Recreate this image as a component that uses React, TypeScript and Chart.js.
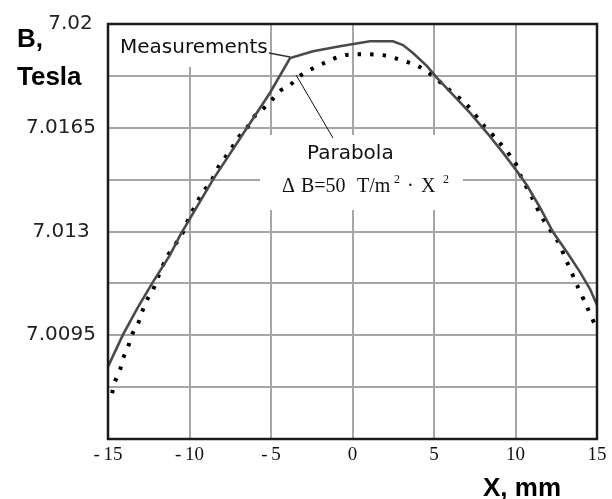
import React, { useEffect, useRef } from 'react';
import { Chart, registerables } from 'chart.js';

Chart.register(...registerables);

// Measured field B (Tesla) along X (mm)
const measX = [-15, -14.08, -13.22, -12.24, -11.2, -10.58, -8.56, -6.47, -5.06, -3.83, -2.42, -0.77, 1.07, 2.48, 3.1, 3.71, 4.57, 5.18, 6.17, 7.21, 8.25, 9.23, 10.09, 10.71, 11.5, 12.3, 13.16, 13.96, 14.57, 15];
const measB = [7.00844, 7.00952, 7.01039, 7.0113, 7.0122, 7.01287, 7.01475, 7.0165, 7.01768, 7.01885, 7.01908, 7.01925, 7.01942, 7.01942, 7.01929, 7.01902, 7.01858, 7.01818, 7.01761, 7.017, 7.01633, 7.01566, 7.01503, 7.01455, 7.01381, 7.01298, 7.0123, 7.01163, 7.01106, 7.01052];

// Parabola fit (dotted)
const parX = [-14.75, -14.57, -14.26, -14.08, -13.77, -13.53, -13.16, -12.91, -12.61, -12.24, -11.93, -11.38, -10.46, -10.15, -9.85, -9.48, -9.05, -8.62, -8.25, -7.82, -7.39, -7.02, -6.47, -6.1, -5.55, -4.94, -4.45, -3.83, -3.22, -2.61, -1.87, -1.2, -0.46, 0.28, 1.01, 1.87, 2.61, 3.34, 4.02, 4.69, 5.8, 7.02, 8.01, 8.93, 9.97, 10.28, 11.01, 11.69, 12.55, 13.16, 13.77, 14.39, 15];
const parB = [7.00754, 7.00794, 7.00834, 7.00871, 7.00911, 7.00952, 7.00989, 7.01029, 7.01069, 7.01103, 7.01146, 7.01214, 7.01291, 7.01331, 7.01365, 7.01405, 7.01442, 7.01475, 7.01516, 7.01549, 7.01583, 7.01616, 7.0165, 7.01684, 7.0171, 7.01744, 7.01774, 7.01794, 7.01825, 7.01845, 7.01865, 7.01882, 7.01895, 7.01898, 7.01898, 7.01895, 7.01885, 7.01872, 7.01858, 7.01835, 7.01784, 7.01727, 7.0166, 7.01606, 7.01533, 7.01492, 7.01415, 7.01341, 7.01271, 7.01197, 7.0112, 7.01046, 7.00969];

const xTickValues = [-15, -10, -5, 0, 5, 10, 15];
const xTickLabels = ['-\u200915', '-\u200910', '-\u20095', '0', '5', '10', '15'];
const yTickValues = [7.006, 7.00775, 7.0095, 7.01125, 7.013, 7.01475, 7.0165, 7.01825, 7.02];
const yTickLabels = ['', '', '7.0095', '', '7.013', '', '7.0165', '', '   7.02'];

const W = 612;
const H = 499;

const annotations = {
  id: 'annotations',
  beforeDatasetsDraw(chart: any) {
    const { ctx } = chart;
    ctx.save();
    ctx.fillStyle = '#ffffff';
    ctx.fillRect(113, 24, 157, 43);
    ctx.fillRect(260, 135, 203, 75);
    ctx.restore();
  },
  afterDatasetsDraw(chart: any) {
    const { ctx, chartArea, scales } = chart;
    const xs = scales.x;
    const ys = scales.y;
    ctx.save();
    // frame
    ctx.strokeStyle = '#1a1a1a';
    ctx.lineWidth = 2.5;
    ctx.strokeRect(chartArea.left, chartArea.top, chartArea.right - chartArea.left, chartArea.bottom - chartArea.top);

    // Measurements label + leader
    ctx.fillStyle = '#111';
    ctx.font = '20px "DejaVu Sans"';
    ctx.textAlign = 'left';
    ctx.textBaseline = 'middle';
    ctx.fillText('Measurements', 120, 48);
    const kx = xs.getPixelForValue(measX[9]);
    const ky = ys.getPixelForValue(measB[9]);
    ctx.strokeStyle = '#333';
    ctx.lineWidth = 1.5;
    ctx.beginPath();
    ctx.moveTo(269, 53);
    ctx.lineTo(kx, ky - 1);
    ctx.stroke();

    // Parabola label + leader
    ctx.fillText('Parabola', 307, 154);
    const px = xs.getPixelForValue(parX[28]);
    const py = ys.getPixelForValue(parB[28]);
    ctx.strokeStyle = '#111';
    ctx.lineWidth = 1;
    ctx.beginPath();
    ctx.moveTo(px - 4, py - 1);
    ctx.lineTo(333, 138);
    ctx.stroke();

    // formula
    ctx.font = '20px "Liberation Serif"';
    ctx.fillStyle = '#111';
    ctx.fillText('\u0394', 282, 187);
    ctx.fillText('B=50', 301, 187);
    ctx.fillText('T/m', 357, 187);
    ctx.fillText('\u00b7', 407, 187);
    ctx.fillText('X', 421, 187);
    ctx.font = '12px "Liberation Serif"';
    ctx.fillText('2', 394, 180);
    ctx.fillText('2', 443, 180);

    // axis titles
    ctx.font = 'bold 26px "Liberation Sans"';
    ctx.textBaseline = 'alphabetic';
    ctx.fillStyle = '#000';
    ctx.fillText('B,', 17, 47);
    ctx.fillText('Tesla', 17, 85);
    ctx.fillText('X, mm', 483, 496);
    ctx.restore();
  },
};

export default function App() {
  const ref = useRef<HTMLCanvasElement | null>(null);
  useEffect(() => {
    if (!ref.current) return;
    const chart = new Chart(ref.current, {
      type: 'line',
      data: {
        datasets: [
          {
            label: 'Measurements',
            data: measX.map((x, i) => ({ x, y: measB[i] })),
            borderColor: '#4a4a4a',
            borderWidth: 2.6,
            pointRadius: 0,
            tension: 0,
          },
          {
            label: 'Parabola',
            data: parX.map((x, i) => ({ x, y: parB[i] })),
            borderColor: '#000',
            borderWidth: 4,
            borderDash: [3.5, 9],
            pointRadius: 0,
            tension: 0.3,
          },
        ],
      },
      options: {
        animation: false,
        responsive: true,
        maintainAspectRatio: false,
        layout: { padding: { top: 22, right: 15, left: 0, bottom: 0 } },
        plugins: { legend: { display: false }, tooltip: { enabled: false } },
        scales: {
          x: {
            type: 'linear',
            min: -15,
            max: 15,
            afterBuildTicks: (s: any) => {
              s.ticks = xTickValues.map((v) => ({ value: v }));
            },
            afterFit: (s: any) => {
              s.height = H - 439;
            },
            ticks: {
              callback: (_v: any, i: number) => xTickLabels[i],
              font: { family: '"Liberation Serif"', size: 19 },
              color: '#111',
              padding: 5,
              maxRotation: 0,
              autoSkip: false,
            },
            grid: { color: '#a6a6a6', lineWidth: 2, drawTicks: false },
            border: { display: false },
          },
          y: {
            type: 'linear',
            min: 7.006,
            max: 7.02,
            afterBuildTicks: (s: any) => {
              s.ticks = yTickValues.map((v) => ({ value: v }));
            },
            afterFit: (s: any) => {
              s.width = 108;
            },
            ticks: {
              callback: (_v: any, i: number) => yTickLabels[i],
              font: { family: '"DejaVu Sans"', size: 20 },
              color: '#222',
              padding: 12,
              crossAlign: 'center',
              autoSkip: false,
            },
            grid: { color: '#a6a6a6', lineWidth: 2, drawTicks: false },
            border: { display: false },
          },
        },
      },
      plugins: [annotations],
    });
    return () => chart.destroy();
  }, []);
  return (
    <div style={{ position: 'fixed', left: 0, top: 0, width: W, height: H, background: '#fff' }}>
      <canvas ref={ref} />
    </div>
  );
}
